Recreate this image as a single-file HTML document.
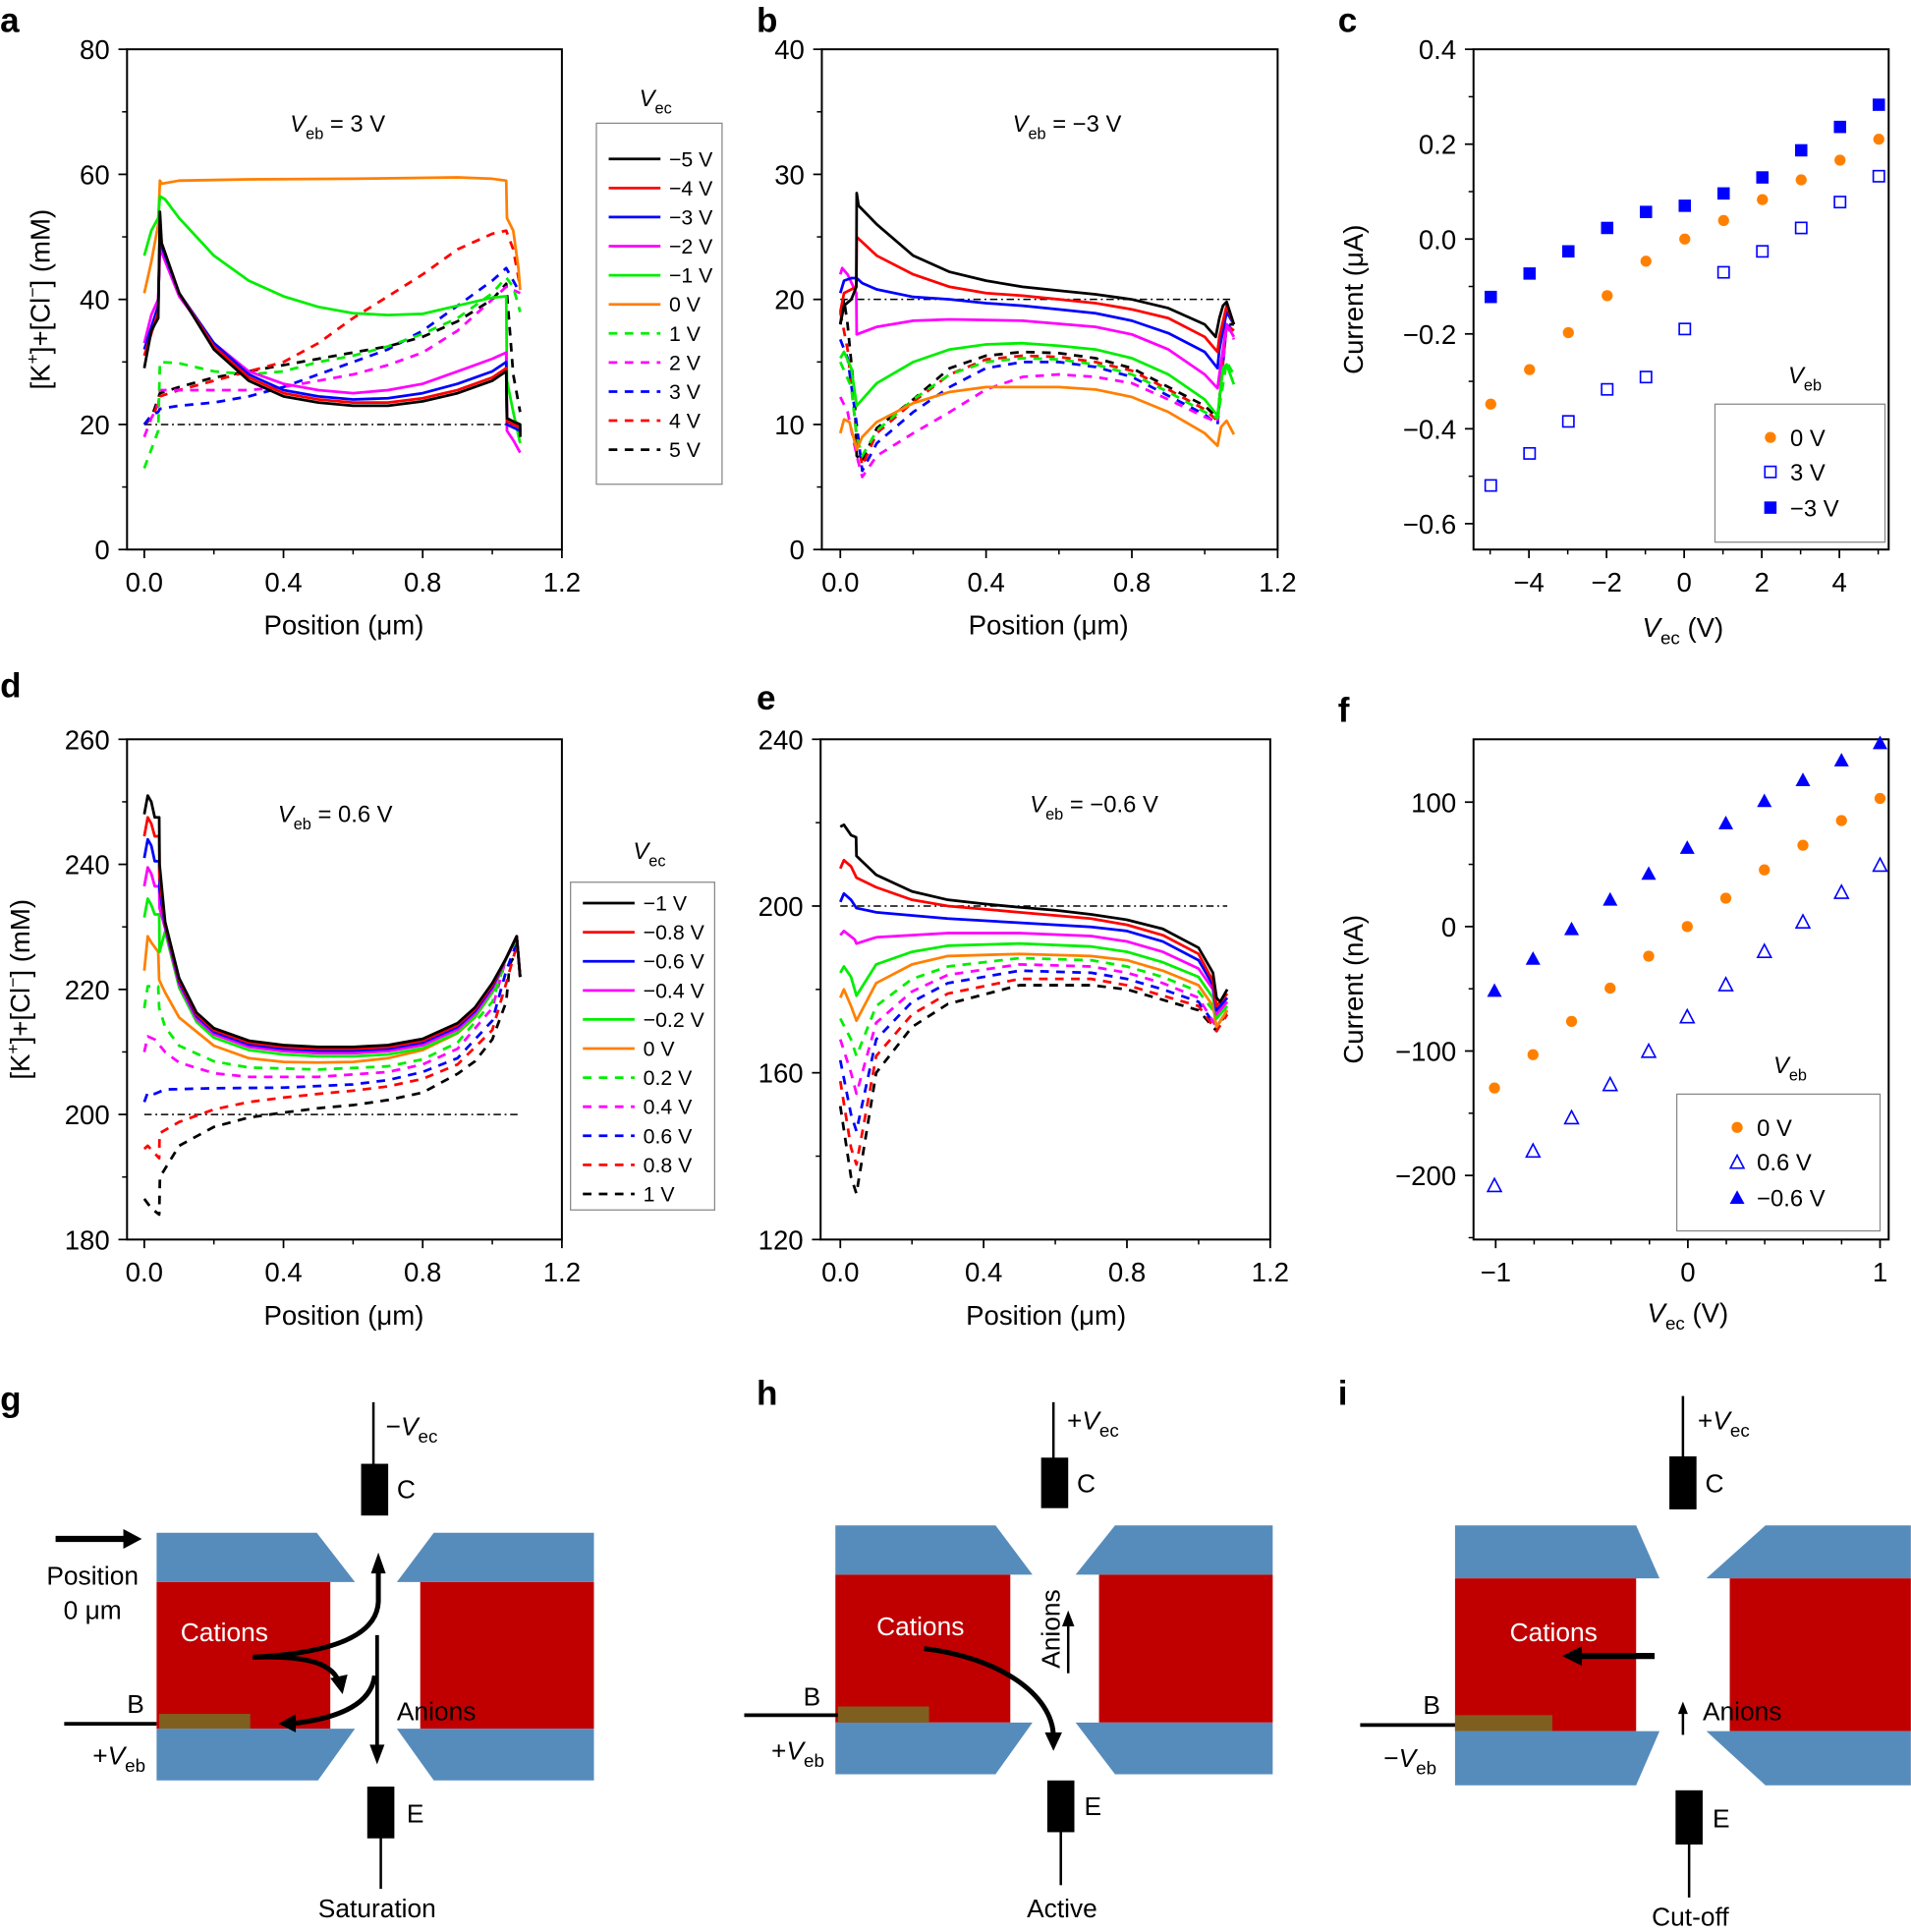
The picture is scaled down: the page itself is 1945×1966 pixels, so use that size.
<!DOCTYPE html>
<html><head><meta charset="utf-8">
<style>
html,body{margin:0;padding:0;background:#fff;overflow:hidden;}
svg{display:block;font-family:"Liberation Sans",Arial,sans-serif;}
</style></head>
<body>
<svg id="s" xmlns="http://www.w3.org/2000/svg" width="1945" height="1966" viewBox="0 0 1551 1568">
<rect width="1551" height="1568" fill="#fff"/>
<g id="plots"></g>
<g font-weight="bold" font-size="28">
<text x="0" y="26">a</text><text x="614" y="26">b</text><text x="1086" y="26">c</text>
<text x="0" y="566">d</text><text x="614" y="576">e</text><text x="1086" y="586">f</text>
<text x="0" y="1145">g</text><text x="614" y="1140">h</text><text x="1086" y="1140">i</text>
</g>
<g>
<polygon points="127,1244 257,1244 288,1284 127,1284" fill="#568cbb"/>
<rect x="127" y="1284" width="141" height="119" fill="#c00000"/>
<polygon points="127,1403 288,1403 258,1445 127,1445" fill="#568cbb"/>
<polygon points="352,1244 482,1244 482,1284 322,1284" fill="#568cbb"/>
<rect x="341" y="1284" width="141" height="119" fill="#c00000"/>
<polygon points="322,1403 482,1403 482,1445 352,1445" fill="#568cbb"/>
<rect x="129" y="1391" width="74" height="12" fill="#7f5f1f"/>
<line x1="303" y1="1138" x2="303" y2="1190" stroke="#000" stroke-width="2"/>
<rect x="293" y="1188" width="22" height="42" fill="#000"/>
<text x="322" y="1216" font-size="21">C</text>
<text x="313" y="1165" font-size="21">−<tspan font-style="italic">V</tspan><tspan font-size="15" dy="6">ec</tspan></text>
<rect x="298" y="1450" width="22" height="42" fill="#000"/>
<line x1="309" y1="1490" x2="309" y2="1533" stroke="#000" stroke-width="2"/>
<text x="330" y="1479" font-size="21">E</text>
<text x="306" y="1556" font-size="21" text-anchor="middle">Saturation</text>
<line x1="52" y1="1399" x2="127" y2="1399" stroke="#000" stroke-width="3"/>
<text x="103" y="1390" font-size="21">B</text>
<text x="75" y="1432" font-size="21">+<tspan font-style="italic">V</tspan><tspan font-size="15" dy="6">eb</tspan></text>
<line x1="45" y1="1249" x2="102" y2="1249" stroke="#000" stroke-width="5"/>
<polygon points="100,1241 115,1249 100,1257" fill="#000"/>
<text x="75" y="1286" font-size="21" text-anchor="middle">Position</text>
<text x="75" y="1314" font-size="21" text-anchor="middle">0 μm</text>
<path d="M307,1275 L307,1300 Q305,1340 205,1345" fill="none" stroke="#000" stroke-width="4"/>
<polygon points="301,1277 307,1260 313,1277" fill="#000"/>
<path d="M205,1345 C262,1343 272,1355 276,1368" fill="none" stroke="#000" stroke-width="4"/>
<polygon points="268,1362 278,1375 282,1359" fill="#000"/>
<line x1="306" y1="1327" x2="306" y2="1418" stroke="#000" stroke-width="3"/>
<polygon points="300,1416 306,1432 312,1416" fill="#000"/>
<path d="M304,1360 Q300,1392 236,1399" fill="none" stroke="#000" stroke-width="4"/>
<polygon points="240,1391 226,1399 240,1406" fill="#000"/>
<text x="182" y="1332" font-size="21" fill="#fff" text-anchor="middle">Cations</text>
<text x="322" y="1396" font-size="21">Anions</text>
</g>
<g>
<polygon points="678,1238 808,1238 838,1278 678,1278" fill="#568cbb"/>
<rect x="678" y="1278" width="142" height="120" fill="#c00000"/>
<polygon points="678,1398 838,1398 808,1440 678,1440" fill="#568cbb"/>
<polygon points="905,1238 1033,1238 1033,1278 873,1278" fill="#568cbb"/>
<rect x="892" y="1278" width="141" height="120" fill="#c00000"/>
<polygon points="873,1398 1033,1398 1033,1440 905,1440" fill="#568cbb"/>
<rect x="680" y="1385" width="74" height="13" fill="#7f5f1f"/>
<line x1="855" y1="1138" x2="855" y2="1185" stroke="#000" stroke-width="2"/>
<rect x="845" y="1183" width="22" height="41" fill="#000"/>
<text x="874" y="1211" font-size="21">C</text>
<text x="866" y="1160" font-size="21">+<tspan font-style="italic">V</tspan><tspan font-size="15" dy="6">ec</tspan></text>
<rect x="850" y="1445" width="22" height="42" fill="#000"/>
<line x1="861" y1="1485" x2="861" y2="1530" stroke="#000" stroke-width="2"/>
<text x="880" y="1473" font-size="21">E</text>
<text x="862" y="1556" font-size="21" text-anchor="middle">Active</text>
<line x1="604" y1="1392" x2="680" y2="1392" stroke="#000" stroke-width="3"/>
<text x="652" y="1384" font-size="21">B</text>
<text x="626" y="1428" font-size="21">+<tspan font-style="italic">V</tspan><tspan font-size="15" dy="6">eb</tspan></text>
<text x="747" y="1327" font-size="21" fill="#fff" text-anchor="middle">Cations</text>
<text transform="translate(860,1322) rotate(-90)" font-size="21" text-anchor="middle">Anions</text>
<line x1="867" y1="1358" x2="867" y2="1318" stroke="#000" stroke-width="2"/>
<polygon points="862,1320 867,1307 872,1320" fill="#000"/>
<path d="M750,1338 C810,1345 855,1375 855,1410" fill="none" stroke="#000" stroke-width="4"/>
<polygon points="848,1406 855,1421 862,1406" fill="#000"/>
</g>
<g>
<polygon points="1181,1238 1328,1238 1347,1281 1181,1281" fill="#568cbb"/>
<rect x="1181" y="1281" width="147" height="124" fill="#c00000"/>
<polygon points="1181,1405 1347,1405 1328,1449 1181,1449" fill="#568cbb"/>
<polygon points="1433,1238 1551,1238 1551,1281 1385,1281" fill="#568cbb"/>
<rect x="1404" y="1281" width="147" height="124" fill="#c00000"/>
<polygon points="1385,1405 1551,1405 1551,1449 1433,1449" fill="#568cbb"/>
<rect x="1181" y="1392" width="79" height="13" fill="#7f5f1f"/>
<line x1="1366" y1="1133" x2="1366" y2="1183" stroke="#000" stroke-width="2"/>
<rect x="1355" y="1182" width="22" height="43" fill="#000"/>
<text x="1384" y="1211" font-size="21">C</text>
<text x="1378" y="1160" font-size="21">+<tspan font-style="italic">V</tspan><tspan font-size="15" dy="6">ec</tspan></text>
<rect x="1360" y="1453" width="22" height="44" fill="#000"/>
<line x1="1371" y1="1495" x2="1371" y2="1540" stroke="#000" stroke-width="2"/>
<text x="1390" y="1483" font-size="21">E</text>
<text x="1372" y="1563" font-size="21" text-anchor="middle">Cut-off</text>
<line x1="1104" y1="1400" x2="1181" y2="1400" stroke="#000" stroke-width="3"/>
<text x="1155" y="1391" font-size="21">B</text>
<text x="1123" y="1434" font-size="21">−<tspan font-style="italic">V</tspan><tspan font-size="15" dy="6">eb</tspan></text>
<text x="1261" y="1332" font-size="21" fill="#fff" text-anchor="middle">Cations</text>
<line x1="1343" y1="1344" x2="1282" y2="1344" stroke="#000" stroke-width="5"/>
<polygon points="1284,1336 1268,1344 1284,1352" fill="#000"/>
<line x1="1366" y1="1408" x2="1366" y2="1390" stroke="#000" stroke-width="2"/>
<polygon points="1362,1391 1366,1381 1370,1391" fill="#000"/>
<text x="1382" y="1396" font-size="21">Anions</text>
</g>
</svg>
<script>
var NS="http://www.w3.org/2000/svg";
var G=document.getElementById("plots");
function el(t,a,p){var e=document.createElementNS(NS,t);for(var k in a)e.setAttribute(k,a[k]);(p||G).appendChild(e);return e;}
function txt(x,y,s,a){a=a||{};a.x=x;a.y=y;var e=el("text",a);e.textContent=s;return e;}
function axes(o){
 el("rect",{x:o.l,y:o.t,width:o.r-o.l,height:o.b-o.t,fill:"none",stroke:"#000","stroke-width":1.6});
 if(o.ya===undefined){o.ya=o.b;o.yb=o.t;}
 var X=function(v){return o.xa+(v-o.x0)*(o.xb-o.xa)/(o.x1-o.x0);};
 var Y=function(v){return o.ya+(v-o.y0)*(o.yb-o.ya)/(o.y1-o.y0);};
 o.X=X;o.Y=Y;
 var okx=function(x){return x>=o.l-1&&x<=o.r+1;}, oky=function(y){return y>=o.t-1&&y<=o.b+1;};
 o.xt.forEach(function(v){var x=X(v);if(okx(x))el("line",{x1:x,y1:o.b,x2:x,y2:o.b+7,stroke:"#000","stroke-width":1.4});});
 o.xm.forEach(function(v){var x=X(v);if(okx(x))el("line",{x1:x,y1:o.b,x2:x,y2:o.b+4,stroke:"#000","stroke-width":1.2});});
 o.xl.forEach(function(p){var x=X(p[0]);if(okx(x))txt(x,o.b+34,p[1],{"font-size":22,"text-anchor":"middle"});});
 o.yt.forEach(function(v){var y=Y(v);if(oky(y))el("line",{x1:o.l-7,y1:y,x2:o.l,y2:y,stroke:"#000","stroke-width":1.4});});
 o.ym.forEach(function(v){var y=Y(v);if(oky(y))el("line",{x1:o.l-4,y1:y,x2:o.l,y2:y,stroke:"#000","stroke-width":1.2});});
 o.yl.forEach(function(p){var y=Y(p[0]);if(oky(y))txt(o.l-14,y+8,p[1],{"font-size":22,"text-anchor":"end"});});
 return o;
}
function curve(o,pts,c,dash){
 var d=pts.map(function(p,i){return (i?"L":"M")+o.X(p[0]).toFixed(1)+","+o.Y(p[1]).toFixed(1);}).join(" ");
 var a={d:d,fill:"none",stroke:c,"stroke-width":2.2,"stroke-linejoin":"round"};
 if(dash)a["stroke-dasharray"]="7,6";
 el("path",a);
}
function ref(o,v){el("line",{x1:o.X(0),y1:o.Y(v),x2:o.X(1.08),y2:o.Y(v),stroke:"#000","stroke-width":1.2,"stroke-dasharray":"6,3,1.5,3"});}
function veb(x,y,val){var t=el("text",{x:x,y:y,"font-size":19,"text-anchor":"middle"});
 t.innerHTML='<tspan font-style="italic">V</tspan><tspan font-size="13" dy="6">eb</tspan><tspan dy="-6"> = '+val+'</tspan>';}
function ylab(x,y,s){var t=el("text",{transform:"translate("+x+","+y+") rotate(-90)","font-size":22,"text-anchor":"middle"});t.innerHTML=s;}
function legend(bx,by,bw,bh,tx,ty,y0,labels,colors){
 var t=el("text",{x:tx,y:ty,"font-size":19,"text-anchor":"middle"});
 t.innerHTML='<tspan font-style="italic">V</tspan><tspan font-size="13" dy="6">ec</tspan>';
 el("rect",{x:bx,y:by,width:bw,height:bh,fill:"none",stroke:"#888","stroke-width":1});
 labels.forEach(function(l,i){var y=y0+i*23.6;var a={x1:bx+10,y1:y,x2:bx+52,y2:y,stroke:colors[i],"stroke-width":2.2};
  if(i>=6)a["stroke-dasharray"]="7,6";el("line",a);txt(bx+59,y+6,l,{"font-size":17});});
}
var C=["#000","#f00","#00f","#f0f","#0e0","#ff8000","#0e0","#f0f","#00f","#f00","#000"];
var xl=[[0,"0.0"],[0.4,"0.4"],[0.8,"0.8"],[1.2,"1.2"]];
var A=axes({l:103,r:456,t:40,b:446,x0:0,x1:1.2,xa:117,xb:456,y0:0,y1:80,
 xt:[0,0.4,0.8,1.2],xm:[0.2,0.6,1.0],xl:xl,yt:[0,20,40,60,80],ym:[10,30,50,70],yl:[[0,"0"],[20,"20"],[40,"40"],[60,"60"],[80,"80"]]});
ref(A,20);
var dA=[
[[0,29],[0.02,35],[0.04,37],[0.045,54],[0.05,49],[0.1,41],[0.2,32],[0.3,27],[0.4,24.5],[0.5,23.5],[0.6,23],[0.7,23],[0.8,23.7],[0.9,25],[1.0,27],[1.04,28.5],[1.042,21],[1.06,20.5],[1.08,20],[1.08,18]],
[[0,31],[0.04,38],[0.045,52],[0.05,49],[0.1,41],[0.2,32.5],[0.3,27.5],[0.4,25],[0.5,24],[0.6,23.5],[0.7,23.5],[0.8,24.2],[0.9,25.5],[1.0,27.5],[1.04,29],[1.042,20.5],[1.08,19.5],[1.08,18]],
[[0,32],[0.04,39],[0.045,50],[0.05,48.5],[0.1,41],[0.2,33],[0.3,28],[0.4,25.5],[0.5,24.5],[0.6,24],[0.7,24.2],[0.8,25],[0.9,26.5],[1.0,28.5],[1.04,30],[1.042,20],[1.08,19]],
[[0,33],[0.02,37.5],[0.04,40],[0.045,48],[0.05,47.5],[0.1,40.5],[0.2,33],[0.3,28.5],[0.4,26.5],[0.5,25.5],[0.6,25],[0.7,25.5],[0.8,26.5],[0.9,28.5],[1.0,30.5],[1.04,31.5],[1.042,19],[1.06,17.5],[1.08,15.5]],
[[0,47],[0.02,51],[0.04,53],[0.045,56.5],[0.06,56],[0.1,53],[0.2,47],[0.3,43],[0.4,40.5],[0.5,38.8],[0.6,37.8],[0.7,37.5],[0.8,37.7],[0.9,39],[1.0,40.3],[1.04,40.5],[1.042,27],[1.06,22],[1.08,17]],
[[0,41],[0.02,46],[0.04,52],[0.045,59],[0.05,58.5],[0.1,59],[0.3,59.2],[0.6,59.3],[0.9,59.5],[1.0,59.3],[1.04,59],[1.042,53],[1.06,51],[1.075,45],[1.08,41.5]],
[[0,13],[0.02,16],[0.04,19],[0.045,30],[0.1,29.8],[0.2,28.5],[0.3,28],[0.4,28.5],[0.5,30],[0.6,31],[0.7,32.5],[0.8,34.5],[0.9,37],[1.0,41],[1.04,43.5],[1.06,42],[1.08,38]],
[[0,18],[0.02,21],[0.04,23],[0.045,25.5],[0.1,25.5],[0.2,25.5],[0.3,25.5],[0.4,26],[0.5,27],[0.6,28],[0.7,29.5],[0.8,31.5],[0.9,35],[1.0,40],[1.04,42],[1.08,41]],
[[0,20],[0.02,21.5],[0.04,22],[0.045,22.5],[0.1,23],[0.2,23.5],[0.3,24.5],[0.4,26],[0.5,28],[0.6,30],[0.7,32],[0.8,35],[0.9,39],[1.0,43],[1.04,45],[1.08,41]],
[[0,20],[0.03,22],[0.045,24.5],[0.1,25.5],[0.2,27],[0.3,28.5],[0.4,30],[0.5,33],[0.6,37],[0.7,40.5],[0.8,44],[0.9,48],[1.0,50.5],[1.04,51],[1.06,48],[1.08,42]],
[[0,20],[0.02,21],[0.045,25],[0.1,26],[0.2,27.5],[0.3,28.5],[0.4,29.5],[0.5,30.5],[0.6,31.5],[0.7,32.5],[0.8,34],[0.9,36.5],[1.0,40],[1.04,42.5],[1.06,28],[1.08,22]]];
for(var i=10;i>=0;i--)curve(A,dA[i],C[i],i>=6);
veb(274,107,"3 V");
ylab(40,243,'[K<tspan font-size="14" dy="-9">+</tspan><tspan dy="9">]+[Cl</tspan><tspan font-size="14" dy="-9">−</tspan><tspan dy="9">] (mM)</tspan>');
txt(279,515,"Position (μm)",{"font-size":22,"text-anchor":"middle"});
legend(484,100,102,293,532,86,129,["−5 V","−4 V","−3 V","−2 V","−1 V","0 V","1 V","2 V","3 V","4 V","5 V"],C);
var B=axes({l:667,r:1037,t:40,b:446,x0:0,x1:1.2,xa:682,xb:1037,y0:0,y1:40,
 xt:[0,0.4,0.8,1.2],xm:[0.2,0.6,1.0],xl:xl,yt:[0,10,20,30,40],ym:[5,15,25,35],yl:[[0,"0"],[10,"10"],[20,"20"],[30,"30"],[40,"40"]]});
ref(B,20);
var dB=[
[[0,18],[0.01,19.5],[0.03,20],[0.044,21],[0.045,28.5],[0.05,27.5],[0.1,26],[0.2,23.5],[0.3,22.2],[0.4,21.5],[0.5,21],[0.6,20.7],[0.7,20.4],[0.8,20],[0.9,19.3],[1.0,18],[1.03,17],[1.04,18.5],[1.05,19.5],[1.06,19.8],[1.08,18]],
[[0,19],[0.01,20.5],[0.044,21],[0.045,25],[0.1,23.5],[0.2,22],[0.3,21],[0.4,20.5],[0.5,20.3],[0.6,20],[0.7,19.7],[0.8,19.2],[0.9,18.5],[1.0,17],[1.035,15.8],[1.04,17],[1.06,19.5],[1.08,18]],
[[0,20.5],[0.01,21.5],[0.03,21.7],[0.045,21.7],[0.06,21.3],[0.1,20.8],[0.2,20.2],[0.3,20],[0.4,19.7],[0.5,19.5],[0.6,19.2],[0.7,18.9],[0.8,18.3],[0.9,17.3],[1.0,15.8],[1.035,14.5],[1.04,16],[1.06,19],[1.08,18]],
[[0,22],[0.005,22.5],[0.02,22],[0.044,20.5],[0.045,17.2],[0.1,17.8],[0.2,18.3],[0.3,18.4],[0.5,18.3],[0.7,17.8],[0.8,17.2],[0.9,16],[1.0,14],[1.035,12.9],[1.04,14],[1.06,18],[1.08,17]],
[[0,15.3],[0.01,15.8],[0.03,14.5],[0.045,11.5],[0.06,12],[0.1,13.3],[0.2,15],[0.3,16],[0.4,16.4],[0.5,16.5],[0.6,16.3],[0.7,16],[0.8,15.3],[0.9,14],[1.0,12],[1.035,10.7],[1.04,12],[1.05,14.5],[1.06,14.8],[1.08,13.2]],
[[0,9.3],[0.01,10.4],[0.025,10.2],[0.045,8],[0.06,9],[0.1,10.2],[0.2,11.7],[0.3,12.6],[0.4,13],[0.6,13],[0.7,12.8],[0.8,12.2],[0.9,11],[1.0,9.3],[1.035,8.3],[1.045,9.8],[1.06,10.3],[1.08,9.2]],
[[0,15],[0.03,13],[0.045,9],[0.06,7.5],[0.1,9.5],[0.2,12],[0.3,14],[0.4,15],[0.5,15.3],[0.6,15.2],[0.7,14.8],[0.8,14],[0.9,12.6],[1.0,11],[1.035,10.5],[1.06,15],[1.08,14]],
[[0,12.2],[0.02,11],[0.045,7.5],[0.06,5.8],[0.1,7.5],[0.2,9.3],[0.3,11],[0.4,12.8],[0.5,13.8],[0.6,14],[0.7,13.8],[0.8,13.3],[0.9,12],[1.0,10.6],[1.035,10.2],[1.06,18],[1.08,16.8]],
[[0,16.8],[0.02,15.3],[0.045,10],[0.06,6.3],[0.1,8.5],[0.2,11],[0.3,13],[0.4,14.5],[0.5,15],[0.6,15],[0.7,14.6],[0.8,13.8],[0.9,12.3],[1.0,10.8],[1.035,10],[1.06,18],[1.08,17.5]],
[[0,19],[0.02,16],[0.045,9],[0.06,6.7],[0.1,9.3],[0.2,11.8],[0.3,14],[0.4,15.2],[0.5,15.5],[0.6,15.4],[0.7,15],[0.8,14.3],[0.9,12.8],[1.0,11.2],[1.035,10.3],[1.06,18],[1.08,17.5]],
[[0,18],[0.01,20],[0.02,18],[0.04,12],[0.045,7.5],[0.06,7],[0.1,9.7],[0.2,12],[0.3,14.5],[0.4,15.5],[0.5,15.8],[0.6,15.7],[0.7,15.3],[0.8,14.5],[0.9,13],[1.0,11.5],[1.035,10.5],[1.04,12],[1.06,18],[1.08,18]]];
for(var i=10;i>=0;i--)curve(B,dB[i],C[i],i>=6);
veb(866,107,"−3 V");
txt(851,515,"Position (μm)",{"font-size":22,"text-anchor":"middle"});
var Cc=axes({l:1196,r:1533,t:40,b:446,x0:0,x1:4,xa:1367,xb:1493,y0:0,y1:0.4,ya:194,yb:40,
 xt:[-4,-2,0,2,4],xm:[-5,-3,-1,1,3,5],xl:[[-4,"−4"],[-2,"−2"],[0,"0"],[2,"2"],[4,"4"]],
 yt:[-0.6,-0.4,-0.2,0,0.2,0.4],ym:[-0.5,-0.3,-0.1,0.1,0.3],yl:[[-0.6,"−0.6"],[-0.4,"−0.4"],[-0.2,"−0.2"],[0,"0.0"],[0.2,"0.2"],[0.4,"0.4"]]});
var bl=[241,222,204,185,172,167,157,144,122,103,85],orr=[328,300,270,240,212,194,179,162,146,130,113],op=[394,368,342,316,306,267,221,204,185,164,143];
for(var k=0;k<11;k++){var x=1210+k*31.5;
 el("circle",{cx:x,cy:orr[k],r:4.5,fill:"#ff8000"});
 el("rect",{x:x-5,y:bl[k]-5,width:10,height:10,fill:"#00f"});
 el("rect",{x:x-4.5,y:op[k]-4.5,width:9,height:9,fill:"none",stroke:"#00f","stroke-width":1.3});}
ylab(1106,243,"Current (μA)");
var t=el("text",{x:1366,y:517,"font-size":22,"text-anchor":"middle"});t.innerHTML='<tspan font-style="italic">V</tspan><tspan font-size="15" dy="6">ec</tspan><tspan dy="-6"> (V)</tspan>';
t=el("text",{x:1465,y:311,"font-size":19,"text-anchor":"middle"});t.innerHTML='<tspan font-style="italic">V</tspan><tspan font-size="13" dy="6">eb</tspan>';
el("rect",{x:1392,y:328,width:138,height:112,fill:"none",stroke:"#888","stroke-width":1});
el("circle",{cx:1437,cy:355,r:4.5,fill:"#ff8000"});txt(1453,362,"0 V",{"font-size":19});
el("rect",{x:1432.5,y:378.5,width:9,height:9,fill:"none",stroke:"#00f","stroke-width":1.3});txt(1453,390,"3 V",{"font-size":19});
el("rect",{x:1432,y:407,width:10,height:10,fill:"#00f"});txt(1453,419,"−3 V",{"font-size":19});
var D=axes({l:103,r:456,t:600,b:1006,x0:0,x1:1.2,xa:117,xb:456,y0:180,y1:260,
 xt:[0,0.4,0.8,1.2],xm:[0.2,0.6,1.0],xl:xl,yt:[180,200,220,240,260],ym:[190,210,230,250],yl:[[180,"180"],[200,"200"],[220,"220"],[240,"240"],[260,"260"]]});
ref(D,200);
function dsol(pk,sh,g,mn){return [[0,pk-3],[0.01,pk],[0.02,pk-1],[0.03,sh],[0.043,sh],[0.044,g],[0.06,mn+20],[0.1,mn+11],[0.15,mn+5.5],[0.2,mn+3],[0.3,mn+1],[0.4,mn+0.3],[0.5,mn],[0.6,mn],[0.7,mn+0.3],[0.8,mn+1.3],[0.9,mn+3.8],[0.95,mn+6.3],[1.0,mn+10.2],[1.04,225],[1.07,228.5],[1.08,222]];}
var dD=[dsol(251,247.5,240,210.8),dsol(247.5,244.5,238,210.5),dsol(244,240.5,236,210.2),dsol(239.5,236.5,233,209.8),dsol(234.5,232,226,209.3),
[[0,223],[0.01,228.5],[0.02,227.5],[0.04,226],[0.043,221.5],[0.06,219.5],[0.1,215.5],[0.2,211],[0.3,209],[0.4,208.4],[0.5,208.3],[0.6,208.4],[0.7,209],[0.8,210.3],[0.9,213],[0.95,215.5],[1.0,219.5],[1.04,225],[1.07,228.5]],
[[0,217],[0.01,220.5],[0.04,220.5],[0.043,217],[0.06,214],[0.1,211],[0.2,208.5],[0.3,207.5],[0.5,207.2],[0.7,207.7],[0.8,208.8],[0.9,211.5],[1.0,218],[1.04,225],[1.07,228]],
[[0,210],[0.01,212.5],[0.03,212],[0.06,210],[0.1,208.3],[0.2,206.6],[0.3,206],[0.5,206],[0.7,206.8],[0.8,208],[0.9,210.5],[1.0,217],[1.04,225],[1.07,228]],
[[0,202],[0.01,203.5],[0.03,203.3],[0.06,204],[0.2,204.2],[0.4,204.3],[0.6,204.8],[0.7,205.5],[0.8,206.8],[0.9,209],[1.0,215],[1.04,223],[1.07,227.5]],
[[0,194.5],[0.01,195],[0.043,193],[0.044,197],[0.1,198.8],[0.2,200.8],[0.3,202],[0.4,202.7],[0.5,203.3],[0.6,203.8],[0.7,204.5],[0.8,205.7],[0.9,208],[1.0,213.5],[1.04,221],[1.07,227]],
[[0,186.5],[0.02,185],[0.043,184],[0.045,190],[0.1,195],[0.2,198],[0.3,199.5],[0.4,200.3],[0.5,201],[0.6,201.5],[0.7,202.3],[0.8,203.5],[0.9,206.5],[0.95,208.5],[1.0,212],[1.04,218],[1.05,224],[1.07,226]]];
for(var i=10;i>=0;i--)curve(D,dD[i],C[i],i>=6);
veb(272,667,"0.6 V");
ylab(24,803,'[K<tspan font-size="14" dy="-9">+</tspan><tspan dy="9">]+[Cl</tspan><tspan font-size="14" dy="-9">−</tspan><tspan dy="9">] (mM)</tspan>');
txt(279,1075,"Position (μm)",{"font-size":22,"text-anchor":"middle"});
legend(463,716,117,266,527,697,733,["−1 V","−0.8 V","−0.6 V","−0.4 V","−0.2 V","0 V","0.2 V","0.4 V","0.6 V","0.8 V","1 V"],C);
var E=axes({l:666,r:1031,t:600,b:1006,x0:0,x1:1.2,xa:682,xb:1031,y0:120,y1:240,
 xt:[0,0.4,0.8,1.2],xm:[0.2,0.6,1.0],xl:xl,yt:[120,160,200,240],ym:[140,180,220],yl:[[120,"120"],[160,"160"],[200,"200"],[240,"240"]]});
ref(E,200);
var dE=[
[[0,219],[0.01,219.5],[0.03,217],[0.044,216.5],[0.045,212],[0.1,207.5],[0.2,203.5],[0.3,201.5],[0.4,200.5],[0.5,199.7],[0.6,199],[0.7,198],[0.8,196.7],[0.9,194.5],[1.0,190],[1.04,184],[1.05,178],[1.06,177],[1.08,180]],
[[0,209],[0.01,211],[0.03,209.5],[0.045,206.8],[0.1,204.5],[0.2,201.5],[0.3,200],[0.5,198.5],[0.7,197],[0.8,195.5],[0.9,193],[1.0,188.5],[1.04,182],[1.05,176],[1.08,179]],
[[0,201],[0.01,203],[0.03,201.5],[0.045,199.5],[0.1,198.5],[0.3,197],[0.5,196],[0.7,195],[0.8,194],[0.9,191.5],[1.0,187],[1.04,181],[1.05,175],[1.08,178]],
[[0,193],[0.01,194],[0.04,192],[0.045,191],[0.1,192.5],[0.3,193.5],[0.5,193.5],[0.7,192.8],[0.8,191.5],[0.9,189],[1.0,185],[1.04,180],[1.05,174],[1.08,177]],
[[0,184],[0.01,185.5],[0.03,183],[0.045,178.5],[0.1,186],[0.2,189],[0.3,190.5],[0.5,191],[0.7,190.3],[0.8,189],[0.9,186.5],[1.0,183],[1.04,178],[1.05,173],[1.08,176]],
[[0,178],[0.01,180],[0.03,176],[0.045,172.5],[0.1,181.5],[0.2,186],[0.3,188],[0.5,188.5],[0.7,188],[0.8,187],[0.9,184.5],[1.0,181],[1.04,176],[1.05,171],[1.08,175]],
[[0,173],[0.03,168],[0.045,164],[0.1,176],[0.2,182.5],[0.3,185.5],[0.5,187.5],[0.7,187],[0.8,185.5],[0.9,183],[1.0,179.5],[1.04,175],[1.05,171],[1.08,175]],
[[0,168],[0.03,160],[0.045,155],[0.1,172],[0.2,179.5],[0.3,183.5],[0.5,186],[0.7,185.5],[0.8,184],[0.9,181.5],[1.0,178],[1.05,171],[1.08,175]],
[[0,163],[0.03,150],[0.045,146],[0.1,168],[0.2,177],[0.3,181.5],[0.5,184.5],[0.7,184],[0.8,182.5],[0.9,180],[1.0,177],[1.05,171],[1.08,175]],
[[0,158],[0.03,142],[0.045,138],[0.1,164],[0.2,174],[0.3,179],[0.5,182.5],[0.7,182.5],[0.8,181],[0.9,178.5],[1.0,176],[1.05,170],[1.08,174]],
[[0,152],[0.03,135],[0.045,131],[0.1,160],[0.2,171],[0.3,176.5],[0.5,181],[0.7,181],[0.8,180],[0.9,177.5],[1.0,175],[1.05,170],[1.08,175]]];
for(var i=10;i>=0;i--)curve(E,dE[i],C[i],i>=6);
veb(888,659,"−0.6 V");
txt(849,1075,"Position (μm)",{"font-size":22,"text-anchor":"middle"});
var F=axes({l:1196,r:1533,t:600,b:1006,x0:0,x1:1,xa:1370,xb:1526,y0:0,y1:100,ya:752,yb:651,
 xt:[-1,0,1],xm:[-0.8,-0.6,-0.4,-0.2,0.2,0.4,0.6,0.8],xl:[[-1,"−1"],[0,"0"],[1,"1"]],
 yt:[-200,-100,0,100],ym:[-250,-150,-50,50],yl:[[-200,"−200"],[-100,"−100"],[0,"0"],[100,"100"]]});
var ft=[804,778,754,730,709,688,668,650,633,617,603],fo=[883,856,829,802,776,752,729,706,686,666,648],fp=[962,934,907,880,853,825,799,772,748,724,702];
for(var k=0;k<11;k++){var x=1213+k*31.3;
 el("circle",{cx:x,cy:fo[k],r:4.5,fill:"#ff8000"});
 el("polygon",{points:(x-6)+","+(ft[k]+5)+" "+x+","+(ft[k]-6)+" "+(x+6)+","+(ft[k]+5),fill:"#00f"});
 el("polygon",{points:(x-5.5)+","+(fp[k]+5)+" "+x+","+(fp[k]-5.5)+" "+(x+5.5)+","+(fp[k]+5),fill:"none",stroke:"#00f","stroke-width":1.3});}
ylab(1106,803,"Current (nA)");
t=el("text",{x:1370,y:1073,"font-size":22,"text-anchor":"middle"});t.innerHTML='<tspan font-style="italic">V</tspan><tspan font-size="15" dy="6">ec</tspan><tspan dy="-6"> (V)</tspan>';
t=el("text",{x:1453,y:871,"font-size":19,"text-anchor":"middle"});t.innerHTML='<tspan font-style="italic">V</tspan><tspan font-size="13" dy="6">eb</tspan>';
el("rect",{x:1361,y:888,width:165,height:111,fill:"none",stroke:"#888","stroke-width":1});
el("circle",{cx:1410,cy:915,r:4.5,fill:"#ff8000"});txt(1426,922,"0 V",{"font-size":19});
el("polygon",{points:"1404.5,948 1410,937.5 1415.5,948",fill:"none",stroke:"#00f","stroke-width":1.3});txt(1426,950,"0.6 V",{"font-size":19});
el("polygon",{points:"1404,977 1410,966 1416,977",fill:"#00f"});txt(1426,979,"−0.6 V",{"font-size":19});
</script>
</body></html>
